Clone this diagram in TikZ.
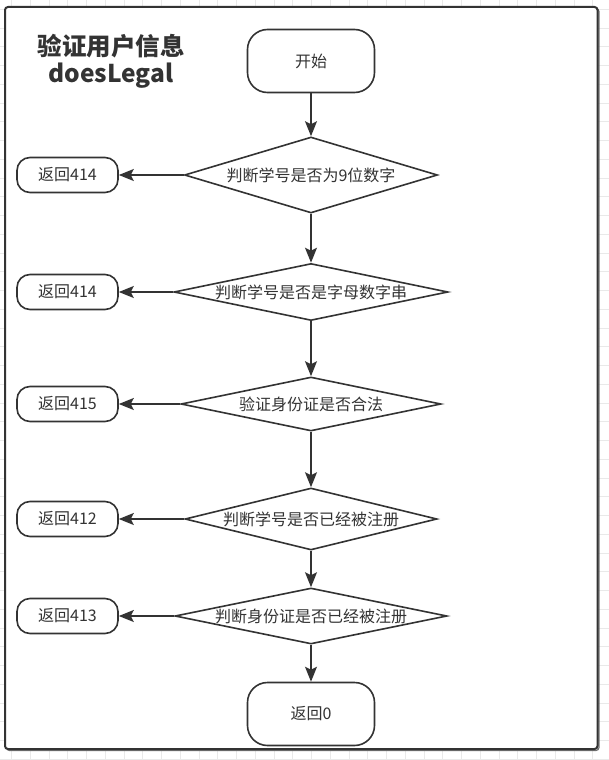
\documentclass[tikz,border=0pt]{standalone}
\usepackage{fontspec}
\setmainfont{Noto Sans CJK SC}
\usetikzlibrary{shapes.geometric,arrows.meta}
\definecolor{ink}{HTML}{333333}
\definecolor{gridline}{HTML}{E9E9E9}
\tikzset{
  flow/.style={draw=ink, line width=1.6pt, fill=white, text=ink, inner sep=0pt, font=\fontsize{16}{19}\selectfont},
  terminal/.style={flow, rectangle, rounded corners=20pt, minimum width=127pt, minimum height=63pt},
  retbox/.style={flow, rectangle, rounded corners=13pt, minimum width=101pt, minimum height=35pt},
  decision/.style={flow, diamond},
  arr/.style={draw=ink, line width=1.6pt, -{Stealth[length=15pt,width=12pt,inset=3pt]}},
}
\newcommand{\zw}[1]{\makebox[0pt]{#1}}
\begin{document}
\begin{tikzpicture}[x=1pt,y=-1pt]
\useasboundingbox (0,0) rectangle (609,760);
% background grid
\foreach \i in {0,...,32} \draw[gridline, line width=0.8pt] (11.5+18.75*\i,0) -- (11.5+18.75*\i,760);
\foreach \j in {0,...,40} \draw[gridline, line width=0.8pt] (0,9.25+18.75*\j) -- (609,9.25+18.75*\j);
% container frame
\draw[ink!70, line width=1.2pt, rounded corners=3pt] (6.5,8.5) rectangle (599,750.5);
\draw[ink, line width=2pt, fill=white, rounded corners=3pt] (5,7) rectangle (597.5,749);
% title
\node[text=ink, font=\bfseries\fontsize{24.5}{28}\selectfont, align=center] (title) at (111,61) {验证用户信息\\[-1pt]doesLegal};
% main flow
\node[terminal] (start) at (311,61) {开始};
\node[decision, minimum width=253pt, minimum height=76pt] (d1) at (311,175) {\zw{判断学号是否为9位数字}};
\node[decision, minimum width=274pt, minimum height=57pt] (d2) at (311,292) {\zw{判断学号是否是字母数字串}};
\node[decision, minimum width=260pt, minimum height=54pt] (d3) at (311,404) {\zw{验证身份证是否合法}};
\node[decision, minimum width=252pt, minimum height=62pt] (d4) at (311,519) {\zw{判断学号是否已经被注册}};
\node[decision, minimum width=272pt, minimum height=56pt] (d5) at (311,616) {\zw{判断身份证是否已经被注册}};
\node[terminal] (end) at (311,714) {返回0};
% return boxes
\node[retbox] (r1) at (67.5,175) {返回414};
\node[retbox] (r2) at (67.5,292) {返回414};
\node[retbox] (r3) at (67.5,404) {返回415};
\node[retbox] (r4) at (67.5,519) {返回412};
\node[retbox] (r5) at (67.5,616) {返回413};
% connectors
\draw[arr] (start.south) -- (d1.north);
\draw[arr] (d1.south) -- (d2.north);
\draw[arr] (d2.south) -- (d3.north);
\draw[arr] (d3.south) -- (d4.north);
\draw[arr] (d4.south) -- (d5.north);
\draw[arr] (d5.south) -- (end.north);
\draw[arr] (d1.west) -- (r1.east);
\draw[arr] (d2.west) -- (r2.east);
\draw[arr] (d3.west) -- (r3.east);
\draw[arr] (d4.west) -- (r4.east);
\draw[arr] (d5.west) -- (r5.east);
\end{tikzpicture}
\end{document}
